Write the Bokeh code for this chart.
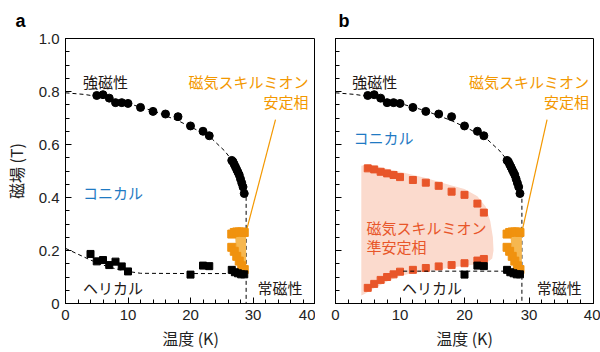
from bokeh.plotting import figure
from bokeh.layouts import row
from bokeh.models import Range1d, FixedTicker, Label
from bokeh.embed import file_html
from bokeh.resources import INLINE

# ---------------- data ----------------
x_ticks = [0, 10, 20, 30, 40]
x_minor = [v for v in range(0, 41, 2)]
y_ticks = [0, 0.2, 0.4, 0.6, 0.8, 1.0]
y_minor = [i * 0.05 for i in range(0, 21)]
y_labels = {0: "0", 0.2: "0.2", 0.4: "0.4", 0.6: "0.6", 0.8: "0.8", 1: "1.0"}

# ferromagnetic boundary (black circles)
ferro_T = [5, 6, 7, 8, 9, 10, 12, 14, 16, 18, 20, 22, 23,
           26.6, 26.8, 27.0, 27.2, 27.4, 27.6, 27.8, 28.0, 28.2, 28.4, 28.6]
ferro_H = [0.785, 0.788, 0.775, 0.758, 0.758, 0.755, 0.740, 0.725, 0.715, 0.705, 0.670, 0.650, 0.633,
           0.540, 0.535, 0.525, 0.515, 0.505, 0.495, 0.485, 0.470, 0.455, 0.440, 0.415]
# ferromagnetic guide line (dashed)
ferro_line_T = [0, 3, 6, 10, 14, 18, 21, 23.5, 25.5, 26.8, 27.8, 28.5, 28.9, 28.9]
ferro_line_H = [0.795, 0.789, 0.778, 0.755, 0.727, 0.69, 0.655, 0.62, 0.575, 0.535, 0.49, 0.45, 0.41, 0.0]

# helical boundary (black squares)
helix_T_a = [4, 5, 6, 7, 8, 9, 10, 20, 22, 23, 26.6, 27.1, 27.6, 28.1, 28.6]
helix_H_a = [0.187, 0.159, 0.164, 0.145, 0.158, 0.140, 0.121, 0.109, 0.143, 0.141, 0.127, 0.118, 0.114, 0.110, 0.110]
helix_T_b = [20, 22, 23, 26.6, 27.1, 27.6, 28.1, 28.6]
helix_H_b = [0.109, 0.143, 0.141, 0.127, 0.118, 0.114, 0.110, 0.110]
helix_line_T_a = [0, 2, 4, 6, 8, 10, 12, 20, 28.9]
helix_line_H_a = [0.208, 0.186, 0.164, 0.145, 0.131, 0.121, 0.114, 0.113, 0.113]
helix_line_T_b = [10.5, 28.9]
helix_line_H_b = [0.122, 0.122]

# skyrmion equilibrium phase (orange)
skx_top_T = [26.6, 27.0, 27.4, 27.8, 28.2, 28.6]
skx_top_H = [0.262, 0.268, 0.270, 0.270, 0.270, 0.268]
skx_bot_T = [26.6, 27.0, 27.4, 27.8, 28.2, 28.6]
skx_bot_H = [0.212, 0.197, 0.178, 0.160, 0.142, 0.128]
skx_fill_T = [27.1, 28.9, 28.9, 28.4, 27.3]
skx_fill_H = [0.262, 0.262, 0.128, 0.135, 0.205]

# metastable skyrmion (red squares, panel b)
meta_T = [5, 6, 7, 8, 9, 10, 12, 14, 16, 18, 20, 22, 23]
meta_top_H = [0.510, 0.506, 0.497, 0.491, 0.485, 0.477, 0.466, 0.456, 0.444, 0.422, 0.410, 0.377, 0.343]
meta_bot_H = [0.059, 0.074, 0.089, 0.100, 0.110, 0.120, 0.127, 0.134, 0.140, 0.145, 0.152, 0.162, 0.168]
meta_area_T = [4.0, 5, 10, 14, 18, 20, 22, 23.3, 24.0, 24.4, 24.5, 24.3, 23.5,
               22, 20, 16, 12, 10, 8, 6, 4.5, 4.0]
meta_area_H = [0.52, 0.525, 0.497, 0.474, 0.445, 0.432, 0.405, 0.365, 0.31, 0.25, 0.20, 0.17, 0.155,
               0.148, 0.142, 0.128, 0.115, 0.104, 0.083, 0.058, 0.036, 0.03]

# ---------------- styles ----------------
JP = "Noto Sans CJK JP"
LAT = "Liberation Sans"
BLACK = "#231815"
BLUE = "#1f7ac3"
ORANGE = "#f39800"
ORANGE_D = "#f0920f"
ORANGE_L = "#f6b74f"
RED = "#e8562a"
PINK = "#fbdacd"


def make(panel):
    if panel == "a":
        p = figure(width=315, height=352, min_border_left=56, min_border_right=0,
                   min_border_top=37, min_border_bottom=49)
    else:
        p = figure(width=285, height=352, min_border_left=20, min_border_right=7,
                   min_border_top=37, min_border_bottom=49)
    p.output_backend = "svg"
    p.toolbar_location = None
    p.x_range = Range1d(0, 40)
    p.y_range = Range1d(0, 1)
    p.grid.visible = False
    p.outline_line_color = "black"
    p.outline_line_width = 1
    p.background_fill_color = "white"
    p.border_fill_color = "white"

    p.title.text = panel
    p.title.text_font = LAT
    p.title.text_font_size = "18px"
    p.title.text_font_style = "bold"
    p.title.text_color = "black"
    p.title.align = "left"
    p.title.standoff = 16
    p.title.offset = -50 if panel == "a" else 3

    for ax in (p.xaxis[0], p.yaxis[0]):
        ax.axis_line_color = "black"
        ax.major_tick_line_color = "black"
        ax.minor_tick_line_color = "black"
        ax.major_tick_in = 6
        ax.major_tick_out = 0
        ax.minor_tick_in = 4
        ax.minor_tick_out = 0
        ax.major_label_text_font = LAT
        ax.major_label_text_font_size = "15px"
        ax.major_label_text_color = "#222222"
        ax.axis_label_text_font = JP
        ax.axis_label_text_font_size = "16px"
        ax.axis_label_text_font_style = "normal"
        ax.axis_label_text_color = "#222222"

    p.xaxis.ticker = FixedTicker(ticks=x_ticks, minor_ticks=x_minor)
    p.xaxis.major_label_standoff = 6
    p.xaxis.axis_label = "温度 (K)"
    p.xaxis.axis_label_standoff = 3
    p.yaxis.ticker = FixedTicker(ticks=y_ticks, minor_ticks=y_minor)
    if panel == "a":
        p.yaxis.major_label_overrides = y_labels
        p.yaxis.axis_label = "磁場 (T)"
        p.yaxis.major_label_standoff = 6
        p.yaxis.axis_label_standoff = 8
    else:
        p.yaxis.major_label_overrides = {t: "" for t in y_ticks}
        p.yaxis.major_label_standoff = 0

    # metastable region (panel b)
    if panel == "b":
        p.patch(meta_area_T, meta_area_H, fill_color=PINK, line_color=None)
        p.scatter(meta_T, meta_top_H, marker="square", size=7, color=RED)
        p.scatter(meta_T, meta_bot_H, marker="square", size=7, color=RED)

    # dashed guide lines
    p.line(ferro_line_T, ferro_line_H, line_dash="4 3", line_color="black", line_width=1)
    if panel == "a":
        p.line(helix_line_T_a, helix_line_H_a, line_dash="4 3", line_color="black", line_width=1)
        hT, hH = helix_T_a, helix_H_a
        lead = (33.6, 0.694)
    else:
        p.line(helix_line_T_b, helix_line_H_b, line_dash="4 3", line_color="black", line_width=1)
        hT, hH = helix_T_b, helix_H_b
        lead = (32.8, 0.694)

    # skyrmion equilibrium pocket
    p.patch(skx_fill_T, skx_fill_H, fill_color=ORANGE_L, line_color=None)
    p.scatter(skx_top_T, skx_top_H, marker="square", size=8, color=ORANGE_D)
    p.scatter(skx_bot_T, skx_bot_H, marker="square", size=8, color=ORANGE_D)

    # data points
    p.scatter(ferro_T, ferro_H, marker="circle", size=8, color="black")
    p.scatter(hT, hH, marker="square", size=7, color="black")

    # leader line
    p.line([28.9, lead[0]], [0.27, lead[1]], line_color=ORANGE, line_width=1.2)

    def lab(text, x, y, color=BLACK, align="left", size="15px"):
        p.add_layout(Label(x=x, y=y, text=text, text_color=color, text_align=align,
                           text_baseline="middle", text_font=JP, text_font_size=size))

    if panel == "a":
        lab("強磁性", 2.8, 0.838)
        lab("磁気スキルミオン", 38.9, 0.838, color=ORANGE, align="right")
        lab("安定相", 38.9, 0.763, color=ORANGE, align="right")
        lab("コニカル", 2.8, 0.418, color=BLUE)
        lab("ヘリカル", 2.8, 0.061)
        lab("常磁性", 30.7, 0.060)
    else:
        lab("強磁性", 2.6, 0.838)
        lab("磁気スキルミオン", 39.3, 0.838, color=ORANGE, align="right")
        lab("安定相", 39.3, 0.763, color=ORANGE, align="right")
        lab("コニカル", 2.8, 0.625, color=BLUE)
        lab("磁気スキルミオン", 4.8, 0.285, color=RED)
        lab("準安定相", 4.8, 0.215, color=RED)
        lab("ヘリカル", 10.3, 0.061)
        lab("常磁性", 31.2, 0.060)
    return p


pa = make("a")
pb = make("b")
layout = row(pa, pb)
open("out.html", "w").write(file_html(layout, INLINE))
